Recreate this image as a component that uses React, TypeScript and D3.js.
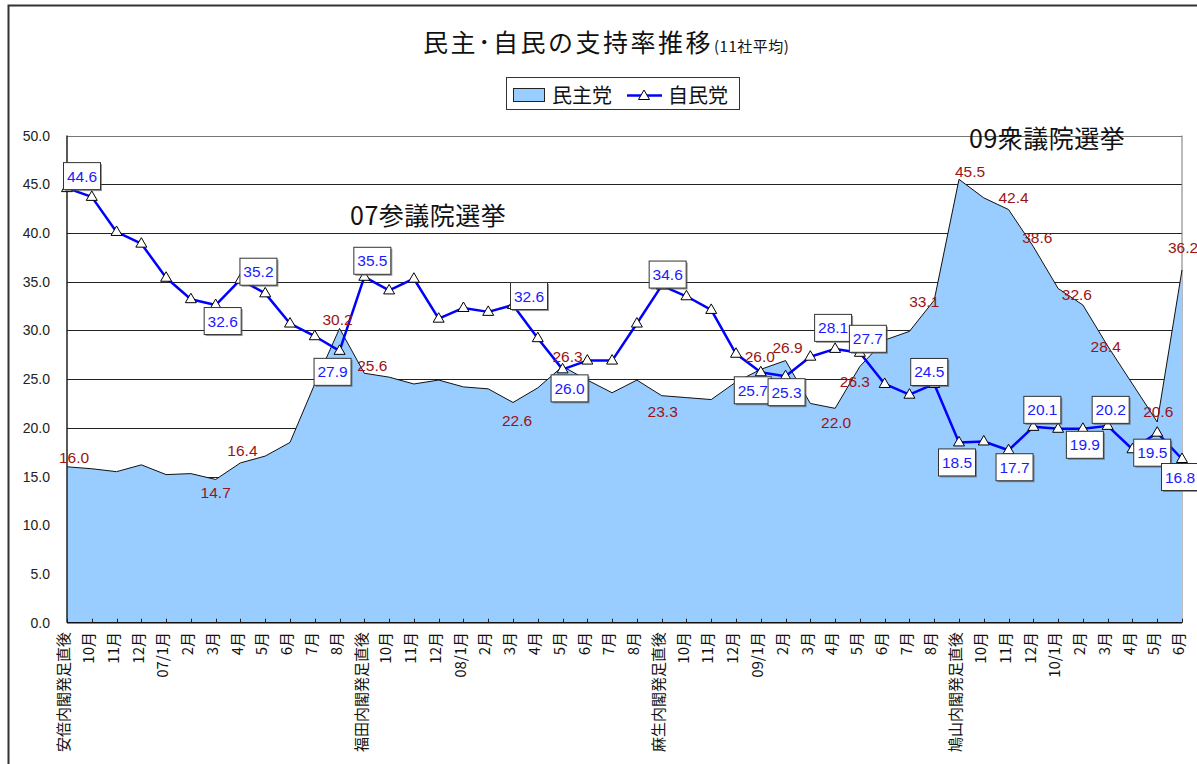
import React, { useRef, useEffect } from 'react';
import * as d3 from 'd3';

// x categories (one per survey month)
const categories = [
  '安倍内閣発足直後', '10月', '11月', '12月', '07/1月', '2月', '3月', '4月', '5月', '6月', '7月', '8月',
  '福田内閣発足直後', '10月', '11月', '12月', '08/1月', '2月', '3月', '4月', '5月', '6月', '7月', '8月',
  '麻生内閣発足直後', '10月', '11月', '12月', '09/1月', '2月', '3月', '4月', '5月', '6月', '7月', '8月',
  '鳩山内閣発足直後', '10月', '11月', '12月', '10/1月', '2月', '3月', '4月', '5月', '6月',
];

// 民主党 (area)
const minshu = [
  16.0, 15.8, 15.5, 16.2, 15.2, 15.3, 14.7, 16.4, 17.1, 18.5, 24.5, 30.2,
  25.6, 25.2, 24.5, 24.9, 24.2, 24.0, 22.6, 24.1, 26.3, 24.9, 23.6, 24.9,
  23.3, 23.1, 22.9, 24.7, 26.0, 26.9, 22.5, 22.0, 26.3, 29.0, 29.9, 33.1,
  45.5, 43.6, 42.4, 38.6, 34.3, 32.6, 28.4, 24.5, 20.6, 36.2,
];

// 自民党 (line)
const jimin = [
  44.6, 43.7, 40.1, 38.9, 35.4, 33.2, 32.6, 35.2, 33.8, 30.7, 29.4, 27.9,
  35.5, 34.1, 35.3, 31.2, 32.3, 31.9, 32.6, 29.2, 26.0, 26.9, 26.9, 30.7,
  34.6, 33.5, 32.1, 27.6, 25.7, 25.3, 27.3, 28.1, 27.7, 24.5, 23.4, 24.5,
  18.5, 18.6, 17.7, 20.1, 19.9, 19.9, 20.2, 17.8, 19.5, 16.8,
];

const yTicks = [0, 5, 10, 15, 20, 25, 30, 35, 40, 45, 50];

// which points carry a data label
const labelIdx = [0, 6, 7, 11, 12, 18, 20, 24, 28, 29, 31, 32, 35, 36, 38, 39, 41, 42, 44, 45];

// label placement (pixel offsets from the point), same order as labelIdx
const minshuLabelOffset = [
  [7, -9], [0, 13], [2, -12], [-2, -9], [8, -8], [4, 18], [5, -10], [1, 16], [-1, -13], [2, -13],
  [1, 14], [-5, 15], [-10, 1], [11, -8], [5, -12], [4, -9], [-6, -11], [-2, 1], [1, -10], [1, -22],
];
const jiminLabelOffset = [
  [15, -12], [7, 16], [18, -8], [-7, 21], [8, -16], [16, -9], [7, 19], [6, -11], [-8, 18], [1, 16],
  [-2, -21], [8, -14], [-5, -12], [-2, 20], [6, 17], [9, -17], [2, 16], [3, -16], [-5, 20], [-2, 18],
];

const FONT = "'Liberation Sans', 'Noto Sans CJK JP', Arial, sans-serif";
const JP = "'Noto Sans CJK JP', 'Liberation Sans', sans-serif";
const AREA_FILL = '#99ccff';
const LINE_COLOR = '#0000ff';
const RED = '#9a1414';
const BLUE_TXT = '#1a1aff';

const triPath = 'M0,-6L5.5,3.5L-5.5,3.5Z';

const App = () => {
  const svgRef = useRef(null);

  useEffect(() => {
    const svg = d3.select(svgRef.current);
    svg.selectAll('*').remove();

    const width = 1197;
    const height = 764;
    const margin = { top: 135.5, right: 15, bottom: 141.3, left: 67 };

    const x = d3
      .scalePoint()
      .domain(categories.map((_, i) => String(i)))
      .range([margin.left, width - margin.right]);
    const y = d3
      .scaleLinear()
      .domain([0, 50])
      .range([height - margin.bottom, margin.top]);
    const px = (i) => x(String(i));

    // chart frame
    svg.append('rect')
      .attr('x', 8.5).attr('y', 5.5).attr('width', 1400).attr('height', 1000)
      .attr('fill', '#fff').attr('stroke', '#333').attr('stroke-width', 2);

    // title
    const title = svg.append('text')
      .attr('x', 423).attr('y', 52)
      .attr('font-family', JP).attr('fill', '#111');
    title.append('tspan').attr('font-size', 25).attr('letter-spacing', 2.5).text('民主･自民の支持率推移');
    title.append('tspan').attr('font-size', 15).attr('dx', 1).attr('letter-spacing', 0.5).text('(11社平均)');

    // legend
    const lg = svg.append('g');
    lg.append('rect')
      .attr('x', 506.5).attr('y', 77.5).attr('width', 233).attr('height', 32)
      .attr('fill', '#fff').attr('stroke', '#333');
    lg.append('rect')
      .attr('x', 513.5).attr('y', 88.5).attr('width', 31).attr('height', 13)
      .attr('fill', AREA_FILL).attr('stroke', '#222');
    lg.append('text')
      .attr('x', 552).attr('y', 103).attr('font-size', 20).attr('font-family', JP)
      .attr('fill', '#111').text('民主党');
    lg.append('line')
      .attr('x1', 627).attr('x2', 662).attr('y1', 95.5).attr('y2', 95.5)
      .attr('stroke', LINE_COLOR).attr('stroke-width', 2.5);
    lg.append('path')
      .attr('d', triPath).attr('transform', 'translate(644,96)')
      .attr('fill', '#fff').attr('stroke', '#000');
    lg.append('text')
      .attr('x', 668).attr('y', 103).attr('font-size', 20).attr('font-family', JP)
      .attr('fill', '#111').text('自民党');

    // gridlines
    svg.append('g')
      .selectAll('line')
      .data(yTicks.filter((t) => t > 0))
      .join('line')
      .attr('x1', margin.left).attr('x2', width - margin.right)
      .attr('y1', (d) => Math.round(y(d)) + 0.5).attr('y2', (d) => Math.round(y(d)) + 0.5)
      .attr('stroke', (d) => (d === 50 ? '#777' : '#222'))
      .attr('stroke-width', 1);

    // right border of plot
    svg.append('line')
      .attr('x1', width - margin.right).attr('x2', width - margin.right)
      .attr('y1', y(50)).attr('y2', y(0))
      .attr('stroke', '#777');

    // 民主党 area
    const area = d3.area()
      .x((d, i) => px(i))
      .y0(y(0))
      .y1((d) => y(d));
    svg.append('path')
      .datum(minshu)
      .attr('d', area)
      .attr('fill', AREA_FILL);
    const topLine = d3.line().x((d, i) => px(i)).y((d) => y(d));
    svg.append('path')
      .datum(minshu)
      .attr('d', topLine)
      .attr('fill', 'none')
      .attr('stroke', '#111')
      .attr('stroke-width', 1);

    // axes
    svg.append('line')
      .attr('x1', margin.left).attr('x2', margin.left)
      .attr('y1', y(50)).attr('y2', y(0))
      .attr('stroke', '#222').attr('stroke-width', 1.5);
    svg.append('line')
      .attr('x1', margin.left).attr('x2', width - margin.right)
      .attr('y1', y(0)).attr('y2', y(0))
      .attr('stroke', '#111').attr('stroke-width', 1.5);

    // x tick marks (inside)
    svg.append('g')
      .selectAll('line')
      .data(categories)
      .join('line')
      .attr('x1', (d, i) => Math.round(px(i)) + 0.5)
      .attr('x2', (d, i) => Math.round(px(i)) + 0.5)
      .attr('y1', y(0) - 4).attr('y2', y(0))
      .attr('stroke', '#222');

    // y tick labels
    svg.append('g')
      .selectAll('text')
      .data(yTicks)
      .join('text')
      .attr('x', 50)
      .attr('y', (d) => y(d) + 5)
      .attr('text-anchor', 'end')
      .attr('font-size', 14)
      .attr('font-family', FONT)
      .attr('fill', '#222')
      .text((d) => d.toFixed(1));

    // x labels, rotated
    svg.append('g')
      .selectAll('text')
      .data(categories)
      .join('text')
      .attr('transform', (d, i) => `translate(${px(i) - 3},632) rotate(-90)`)
      .attr('dy', '0.35em')
      .attr('text-anchor', 'end')
      .attr('font-size', 15)
      .attr('font-family', JP)
      .attr('fill', '#111')
      .text((d) => d);

    // 自民党 line + markers
    const line = d3.line().x((d, i) => px(i)).y((d) => y(d));
    svg.append('path')
      .datum(jimin)
      .attr('d', line)
      .attr('fill', 'none')
      .attr('stroke', LINE_COLOR)
      .attr('stroke-width', 2.5)
      .attr('stroke-linejoin', 'round');
    svg.append('g')
      .selectAll('path')
      .data(jimin)
      .join('path')
      .attr('d', triPath)
      .attr('transform', (d, i) => `translate(${px(i)},${y(d)})`)
      .attr('fill', '#fff')
      .attr('stroke', '#000')
      .attr('stroke-width', 1);

    // annotations
    svg.append('text')
      .attr('x', 350).attr('y', 225).attr('font-size', 25).attr('letter-spacing', 0.5)
      .attr('font-family', JP).attr('fill', '#111').text('07参議院選挙');
    svg.append('text')
      .attr('x', 969).attr('y', 148).attr('font-size', 25).attr('letter-spacing', 0.5)
      .attr('font-family', JP).attr('fill', '#111').text('09衆議院選挙');

    // 民主党 data labels (red)
    svg.append('g')
      .selectAll('text')
      .data(labelIdx)
      .join('text')
      .attr('x', (d, k) => px(d) + minshuLabelOffset[k][0])
      .attr('y', (d, k) => y(minshu[d]) + minshuLabelOffset[k][1] + 5.5)
      .attr('text-anchor', 'middle')
      .attr('font-size', 15.5)
      .attr('font-family', FONT)
      .attr('fill', RED)
      .text((d) => minshu[d].toFixed(1));

    // 自民党 data labels (boxed, blue)
    const boxes = svg.append('g')
      .selectAll('g')
      .data(labelIdx)
      .join('g')
      .attr('transform', (d, k) =>
        `translate(${px(d) + jiminLabelOffset[k][0]},${y(jimin[d]) + jiminLabelOffset[k][1]})`);
    boxes.append('rect')
      .attr('x', -17).attr('y', -12).attr('width', 37).attr('height', 27)
      .attr('fill', '#555').attr('opacity', 0.6);
    boxes.append('rect')
      .attr('x', -18.5).attr('y', -13.5).attr('width', 37).attr('height', 27)
      .attr('fill', '#fff').attr('stroke', '#333').attr('stroke-width', 1);
    boxes.append('text')
      .attr('y', 5.5)
      .attr('text-anchor', 'middle')
      .attr('font-size', 15.5)
      .attr('font-family', FONT)
      .attr('fill', BLUE_TXT)
      .text((d) => jimin[d].toFixed(1));

    return () => {
      svg.selectAll('*').remove();
    };
  }, []);

  return (
    <svg
      ref={svgRef}
      width={1197}
      height={764}
      style={{ position: 'absolute', left: 0, top: 0, background: '#fff' }}
    />
  );
};

export default App;
